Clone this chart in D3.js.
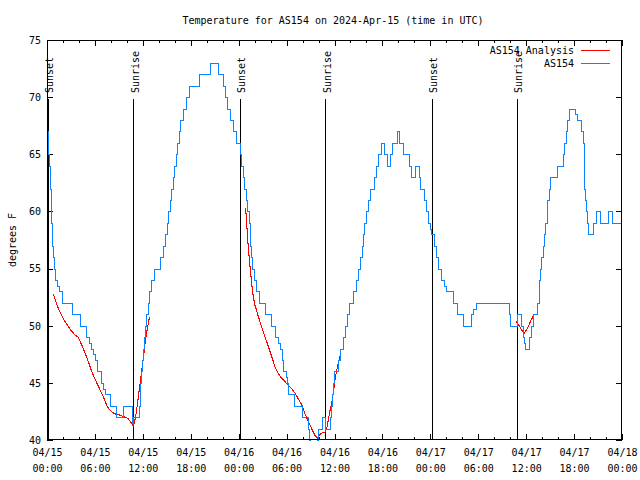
<!DOCTYPE html>
<html><head><meta charset="utf-8">
<script src="https://cdn.jsdelivr.net/npm/d3@7"></script>
<style>
body{margin:0;background:#fff}
text{font-family:"DejaVu Sans Mono","Liberation Mono",monospace;font-size:10px;fill:#000}
</style>
</head><body>
<svg id="c" width="640" height="480"></svg>
<script>
const chartTitle = "Temperature for AS154 on 2024-Apr-15 (time in UTC)";
const yAxisLabel = "degrees F";
const startUTC = Date.UTC(2024, 3, 15, 0, 0);
const yTickValues = [40, 45, 50, 55, 60, 65, 70, 75];
const xMajorHours = [0, 6, 12, 18, 24, 30, 36, 42, 48, 54, 60, 66, 72];
const xMinorHours = [2, 4, 8, 10, 14, 16, 20, 22, 26, 28, 32, 34, 38, 40, 44, 46, 50, 52, 56, 58, 62, 64, 68, 70];
const sunsetHours = [0.12, 24.14, 48.16];
const sunriseHours = [10.82, 34.84, 58.8];
const legendNames = ["AS154 Analysis", "AS154"];

// observed (step data: hour offset, temperature F)
const obsHours = [0,0.08,0.17,0.27,0.35,0.41,0.46,0.5,0.55,0.6,0.67,0.76,0.88,1.03,1.3,1.45,1.9,3.08,4.15,4.88,5.26,5.47,5.8,6.02,6.3,6.76,7.05,7.3,7.92,8.68,9.5,10.62,10.72,11.55,11.6,11.7,11.8,11.92,12.02,12.15,12.3,12.45,12.6,12.8,13.05,13.4,14.1,14.55,14.8,15.0,15.2,15.4,15.55,15.75,15.95,16.1,16.3,16.5,16.7,17.05,17.4,17.8,19.07,20.38,21.45,22.08,22.3,22.55,22.95,23.35,23.7,24.15,24.35,24.5,24.7,24.9,25.1,25.25,25.38,25.48,25.58,25.72,25.9,26.15,26.5,27.25,28.0,28.5,28.95,29.15,29.45,29.58,29.95,30.1,30.2,30.95,31.95,32.65,32.85,32.95,33.85,33.95,34.45,34.75,35.4,35.55,35.7,35.85,35.98,36.5,36.65,37.05,37.35,37.6,37.85,38.3,38.65,38.9,39.15,39.4,39.6,39.75,39.95,40.2,40.5,41.0,41.25,41.5,41.85,42.25,42.55,42.9,43.15,43.85,44.1,44.55,45.35,45.6,46.1,46.55,46.75,47.25,47.45,47.65,47.95,48.1,48.5,48.75,48.95,49.3,49.75,49.95,50.8,51.3,52.05,53.05,53.4,53.75,57.8,57.95,58.85,59.35,59.55,59.75,59.9,60.4,60.6,60.8,61.4,61.55,61.65,61.75,61.9,62.05,62.2,62.4,62.55,62.65,62.8,62.95,63.9,64.6,64.75,64.95,65.15,65.4,66.15,66.4,66.9,67.15,67.22,67.27,67.33,67.45,67.6,67.8,68.35,68.7,69.3,70.25,70.7,72];
const obsTemps = [67,66,65,64,63,62,61,60,59,58,57,56,55,54,53.5,53,52,51,50,49,48.5,48,47.5,47,46,45,44.5,44,43,42,43,41.5,42,43,44,45,46,47,48,49,50,51,52,53,54,55,56,57,58,59,60,61,62,63,64,65,66,67,68,69,70,71,72,73,72,71,70,69,68,67,66,65,64,63,62,61,60,59,58,57,56,55,54,53,52,51,50,49,48.5,48,47,46,45.5,45,44,43,42,41,40,39,40,41,42,41,42,43,44,45,46,47,48,49,50,51,52,53,54,55,56,57,58,59,60,61,62,63,64,65,66,65,64,65,66,67,66,65,64,63,64,63,62,61,60,59,58.5,58,57,56,55,54,53.5,53,52,51,50,51,51.5,52,51,50,51,50,49,48.5,48,49,50,51,52,53,54,55,56,57,58,59,60,61,62,63,64,65,66,67,68,69,68.5,68,67,66,64,62,61,60,59,58,59,60,59,60,59,59];

// analysis (smooth, null = gap)
const anaHours = [0.79,1.1,1.5,1.9,2.3,2.7,3.1,3.5,3.9,4.3,4.7,5.1,5.5,5.9,6.3,6.7,7.1,7.5,7.9,8.4,9.0,9.6,10.1,10.45,10.8,11.0,11.2,11.4,11.6,11.8,12.0,12.2,12.4,12.6,12.85,
  null,
  24.87,25.0,25.2,25.42,25.63,25.84,26.04,26.46,26.88,27.3,27.71,28.13,28.55,28.96,29.38,29.8,30.21,30.63,31.05,31.47,31.88,32.3,32.72,33.14,33.56,33.85,34.1,34.39,34.81,35.02,35.23,35.44,35.64,35.85,36.06,36.27,36.48,36.69,36.81,
  null,
  58.75,59.2,59.75,60.25,60.55,60.85];
const anaTemps = [52.8,52.1,51.4,50.8,50.3,49.9,49.5,49.2,49.0,48.4,47.7,47.0,46.2,45.5,44.9,44.3,43.7,43.0,42.6,42.3,42.2,42.05,41.9,41.6,41.2,41.7,42.5,43.6,44.6,45.7,46.8,48.0,49.1,49.9,50.8,
  null,
  60.3,59.0,56.9,55.2,53.7,52.5,51.8,50.8,49.9,49.0,48.2,47.3,46.4,45.8,45.4,45.1,44.8,44.5,44.1,43.6,43.1,42.3,41.6,41.0,40.4,40.15,40.4,40.6,40.7,41.0,41.75,42.6,43.2,44.1,45.25,46.1,46.7,47.3,47.7,
  null,
  50.4,49.9,49.3,49.9,50.4,50.8];

const colors = {analysis: "#ff0000", obs: "#0a84ff"};

const svg = d3.select("#c");
const L = 47, R = 622, T = 40, B = 440;
const toDate = h => new Date(startUTC + h * 3600e3);
const x = d3.scaleUtc().domain([toDate(0), toDate(72)]).range([L, R]);
const y = d3.scaleLinear().domain([40, 75]).range([B, T]);

svg.append("rect").attr("width", 640).attr("height", 480).attr("fill", "#fff");

svg.append("defs").append("clipPath").attr("id", "clip")
  .append("rect").attr("x", L).attr("y", T).attr("width", R - L).attr("height", B - T + 1);

// axes
function styleAxis(g) {
  g.select(".domain").remove();
  g.selectAll("line").attr("stroke", "#000").attr("shape-rendering", "crispEdges");
}
const fmtDate = d3.utcFormat("%m/%d"), fmtTime = d3.utcFormat("%H:%M");
const xb = svg.append("g").attr("transform", `translate(0,${B})`)
  .call(d3.axisBottom(x).tickValues(xMajorHours.map(toDate)).tickSize(-6).tickPadding(10).tickFormat(fmtDate));
styleAxis(xb);
xb.selectAll("text").attr("font-size", null).attr("font-family", null)
  .each(function (d) {
    const t = d3.select(this);
    t.text(null).attr("y", 0).attr("dy", null);
    t.append("tspan").attr("x", 0).attr("y", 15.5).text(fmtDate(d));
    t.append("tspan").attr("x", 0).attr("y", 31.5).text(fmtTime(d));
  });
styleAxis(svg.append("g").attr("transform", `translate(0,${B})`)
  .call(d3.axisBottom(x).tickValues(xMinorHours.map(toDate)).tickSize(-3).tickFormat("")));
styleAxis(svg.append("g").attr("transform", `translate(0,${T})`)
  .call(d3.axisTop(x).tickValues(xMajorHours.map(toDate)).tickSize(-6).tickFormat("")));
styleAxis(svg.append("g").attr("transform", `translate(0,${T})`)
  .call(d3.axisTop(x).tickValues(xMinorHours.map(toDate)).tickSize(-3).tickFormat("")));
const yl = svg.append("g").attr("transform", `translate(${L},0)`)
  .call(d3.axisLeft(y).tickValues(yTickValues).tickSize(-6).tickPadding(6));
styleAxis(yl);
yl.selectAll("text").attr("font-size", null).attr("font-family", null).attr("dy", "0.34em");
styleAxis(svg.append("g").attr("transform", `translate(${R},0)`)
  .call(d3.axisRight(y).tickValues(yTickValues).tickSize(-6).tickFormat("")));

// sunset / sunrise markers
const sunEvents = sunsetHours.map(h => ({h, name: "Sunset"}))
  .concat(sunriseHours.map(h => ({h, name: "Sunrise"})));
const sg = svg.append("g");
sg.selectAll("line").data(sunEvents).join("line")
  .attr("x1", d => Math.round(x(toDate(d.h))) + 0.5).attr("x2", d => Math.round(x(toDate(d.h))) + 0.5)
  .attr("y1", 99).attr("y2", B).attr("stroke", "#000").attr("stroke-width", 1)
  .attr("shape-rendering", "crispEdges");
sg.selectAll("text").data(sunEvents).join("text")
  .attr("transform", d => `translate(${x(toDate(d.h)) + 5.5},93) rotate(-90)`)
  .text(d => d.name);

// data lines
const plot = svg.append("g").attr("clip-path", "url(#clip)");
const anaLine = d3.line().defined((d, i) => anaHours[i] != null)
  .x((d, i) => x(toDate(anaHours[i]))).y((d, i) => y(anaTemps[i]));
plot.append("path").attr("d", anaLine(anaHours)).attr("fill", "none")
  .attr("stroke", colors.analysis).attr("stroke-width", 1.1).attr("shape-rendering", "crispEdges");
const obsLine = d3.line().curve(d3.curveStepAfter)
  .x((d, i) => Math.round(x(toDate(obsHours[i]))) + 0.5).y((d, i) => Math.round(y(obsTemps[i])) + 0.5);
plot.append("path").attr("d", obsLine(obsHours)).attr("fill", "none")
  .attr("stroke", colors.obs).attr("stroke-width", 1).attr("shape-rendering", "crispEdges");

// frame
svg.append("rect").attr("x", L + 0.5).attr("y", T + 0.5).attr("width", R - L - 1).attr("height", B - T - 1)
  .attr("fill", "none").attr("stroke", "#000").attr("shape-rendering", "crispEdges");

// title and labels
svg.append("text").attr("x", 333).attr("y", 23.5).attr("text-anchor", "middle").text(chartTitle);
svg.append("text").attr("transform", "translate(15.5,240) rotate(-90)").attr("text-anchor", "middle").text(yAxisLabel);

// legend
const lg = svg.append("g");
[colors.analysis, colors.obs].forEach((c, i) => {
  const yy = 50 + i * 13;
  lg.append("text").attr("x", 574).attr("y", yy + 3.5).attr("text-anchor", "end").text(legendNames[i]);
  lg.append("line").attr("x1", 581).attr("x2", 610).attr("y1", yy + 0.5).attr("y2", yy + 0.5)
    .attr("stroke", c).attr("stroke-width", 1).attr("shape-rendering", "crispEdges");
});
</script>
</body></html>
